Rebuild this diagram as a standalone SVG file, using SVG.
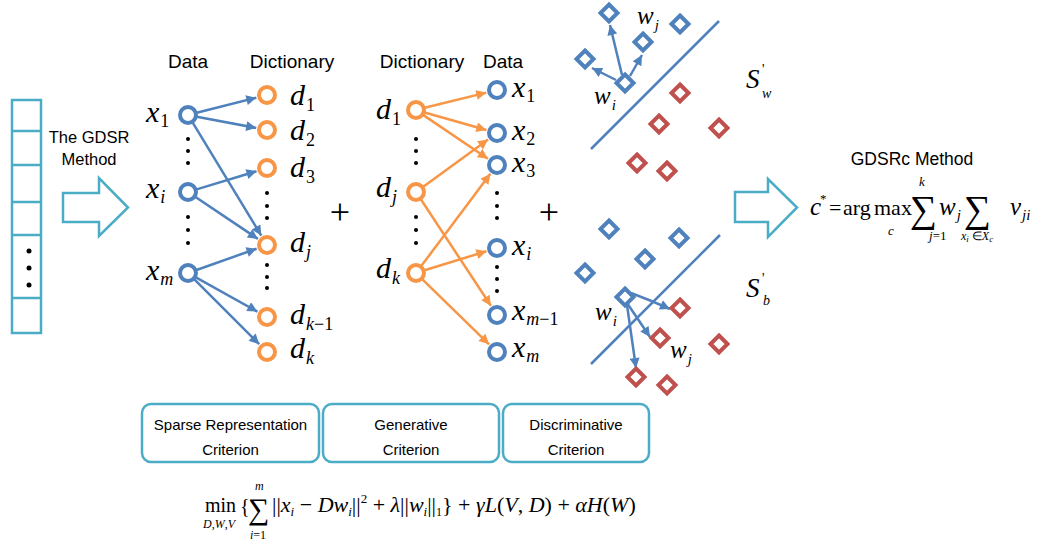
<svg xmlns="http://www.w3.org/2000/svg" width="1052" height="547" viewBox="0 0 1052 547">
<defs>
<marker id="ab" viewBox="0 0 10 10" refX="10" refY="5" markerWidth="12" markerHeight="10" markerUnits="userSpaceOnUse" orient="auto"><path d="M0,0 L10,5 L0,10 z" fill="#4F81BD"/></marker>
<marker id="ao" viewBox="0 0 10 10" refX="10" refY="5" markerWidth="12" markerHeight="10" markerUnits="userSpaceOnUse" orient="auto"><path d="M0,0 L10,5 L0,10 z" fill="#F79646"/></marker>
<style>
.sans{font-family:"Liberation Sans",Arial,sans-serif;fill:#000}
.m{font-family:"Liberation Serif","Times New Roman",serif;font-style:italic;fill:#000}
.r{font-family:"Liberation Serif","Times New Roman",serif;fill:#000}
.n{font-style:normal}
.cb{fill:#fff;stroke:#4F81BD;stroke-width:4}
.co{fill:#fff;stroke:#F79646;stroke-width:4}
.db{fill:#fff;stroke:#4F81BD;stroke-width:4}
.dr{fill:#fff;stroke:#C0504D;stroke-width:4}
.eb{stroke:#4F81BD;stroke-width:2.5;fill:none;marker-end:url(#ab)}
.eo{stroke:#F79646;stroke-width:2.5;fill:none;marker-end:url(#ao)}
.tl{fill:none;stroke:#4BACC6;stroke-width:2.5}
.dot{fill:#000}
</style>
</defs>
<rect width="1052" height="547" fill="#fff"/>

<g id="column">
<rect class="tl" x="12" y="100" width="29" height="233"/>
<path class="tl" d="M12,131H41M12,165H41M12,202H41M12,235H41M12,298H41"/>
<circle class="dot" cx="29" cy="251" r="2.5"/><circle class="dot" cx="29" cy="268" r="2.5"/><circle class="dot" cx="29" cy="285" r="2.5"/>
</g>
<g id="gdsr-label">
<text class="sans" x="89" y="143" font-size="16.5" text-anchor="middle">The GDSR</text>
<text class="sans" x="89" y="165" font-size="16.5" text-anchor="middle">Method</text>
<path class="tl" d="M63,193H99V178L128,207.5L99,236V222H63Z" fill="#fff"/>
</g>

<g id="headers">
<text class="sans" x="188" y="68" font-size="19" text-anchor="middle">Data</text>
<text class="sans" x="292" y="68" font-size="19" text-anchor="middle">Dictionary</text>
<text class="sans" x="422" y="68" font-size="19" text-anchor="middle">Dictionary</text>
<text class="sans" x="503" y="68" font-size="19" text-anchor="middle">Data</text>
</g>

<g id="connectors">
<line class="eb" x1="196.7" y1="112.8" x2="256.3" y2="97.7"/>
<line class="eb" x1="196.8" y1="116.7" x2="256.2" y2="127.9"/>
<line class="eb" x1="192.7" y1="122.7" x2="261.3" y2="235.6"/>
<line class="eb" x1="196.6" y1="189.4" x2="256.5" y2="171.2"/>
<line class="eb" x1="195.5" y1="197" x2="257.9" y2="238.9"/>
<line class="eb" x1="196.5" y1="270" x2="256.6" y2="248.7"/>
<line class="eb" x1="195.9" y1="277.4" x2="257.4" y2="311.6"/>
<line class="eb" x1="194.4" y1="279.4" x2="259.2" y2="344.2"/>

<line class="eo" x1="424.7" y1="107.8" x2="486.3" y2="92.6"/>
<line class="eo" x1="424.7" y1="112.5" x2="486.4" y2="130"/>
<line class="eo" x1="423.4" y1="115.1" x2="487.9" y2="158.8"/>
<line class="eo" x1="423.3" y1="186.7" x2="488.1" y2="139.5"/>
<line class="eo" x1="421" y1="199.5" x2="490.9" y2="305.8"/>
<line class="eo" x1="421.4" y1="265.8" x2="490.4" y2="173.8"/>
<line class="eo" x1="424.6" y1="270.3" x2="486.5" y2="251.2"/>
<line class="eo" x1="422.4" y1="279.3" x2="489.1" y2="344.3"/>

<line class="eb" x1="622" y1="75" x2="610" y2="25"/>
<line class="eb" x1="630" y1="76" x2="642" y2="55"/>
<line class="eb" x1="616" y1="80" x2="592" y2="68"/>
<path class="eb" d="M631,293 Q650,300 670,309"/>
<line class="eb" x1="627" y1="303" x2="650" y2="337"/>
<line class="eb" x1="627" y1="305" x2="636" y2="368"/>
</g>

<g id="sparse-graph">
<circle class="cb" cx="188" cy="115" r="8"/>
<circle class="cb" cx="188" cy="192" r="8"/>
<circle class="cb" cx="188" cy="273" r="8"/>
<g class="dot"><circle cx="188" cy="139" r="2"/><circle cx="188" cy="151" r="2"/><circle cx="188" cy="163" r="2"/><circle cx="188" cy="217" r="2"/><circle cx="188" cy="230" r="2"/><circle cx="188" cy="243" r="2"/></g>
<circle class="co" cx="267" cy="95" r="8"/>
<circle class="co" cx="267" cy="130" r="8"/>
<circle class="co" cx="267" cy="168" r="8"/>
<circle class="co" cx="267" cy="245" r="8"/>
<circle class="co" cx="267" cy="317" r="8"/>
<circle class="co" cx="267" cy="352" r="8"/>
<g class="dot"><circle cx="267" cy="193" r="2"/><circle cx="267" cy="206" r="2"/><circle cx="267" cy="218" r="2"/><circle cx="267" cy="265" r="2"/><circle cx="267" cy="277" r="2"/><circle cx="267" cy="288" r="2"/></g>
<text class="m" x="146" y="122" font-size="30">x<tspan class="n" font-size="18" dx="1" dy="5">1</tspan></text>
<text class="m" x="146" y="198" font-size="30">x<tspan font-size="18" dx="1" dy="5">i</tspan></text>
<text class="m" x="146" y="280" font-size="30">x<tspan font-size="18" dx="1" dy="5">m</tspan></text>
<text class="m" x="290" y="105" font-size="30">d<tspan class="n" font-size="18" dx="1" dy="6">1</tspan></text>
<text class="m" x="290" y="140" font-size="30">d<tspan class="n" font-size="18" dx="1" dy="6">2</tspan></text>
<text class="m" x="290" y="177" font-size="30">d<tspan class="n" font-size="18" dx="1" dy="6">3</tspan></text>
<text class="m" x="290" y="252" font-size="30">d<tspan font-size="18" dx="1" dy="6">j</tspan></text>
<text class="m" x="290" y="324" font-size="30">d<tspan font-size="18" dx="1" dy="6">k</tspan><tspan class="n" font-size="18">−1</tspan></text>
<text class="m" x="290" y="358" font-size="30">d<tspan font-size="18" dx="1" dy="6">k</tspan></text>
</g>

<g id="plus1"><text class="r" x="340" y="224" font-size="36" text-anchor="middle">+</text></g>

<g id="generative-graph">
<circle class="co" cx="416" cy="110" r="8"/>
<circle class="co" cx="416" cy="192" r="8"/>
<circle class="co" cx="416" cy="273" r="8"/>
<g class="dot"><circle cx="416" cy="139" r="2"/><circle cx="416" cy="151" r="2"/><circle cx="416" cy="163" r="2"/><circle cx="416" cy="217" r="2"/><circle cx="416" cy="230" r="2"/><circle cx="416" cy="243" r="2"/></g>
<circle class="cb" cx="497" cy="90" r="8"/>
<circle class="cb" cx="497" cy="133" r="8"/>
<circle class="cb" cx="497" cy="165" r="8"/>
<circle class="cb" cx="497" cy="248" r="8"/>
<circle class="cb" cx="497" cy="315" r="8"/>
<circle class="cb" cx="497" cy="352" r="8"/>
<g class="dot"><circle cx="497" cy="193" r="2"/><circle cx="497" cy="206" r="2"/><circle cx="497" cy="218" r="2"/><circle cx="497" cy="267" r="2"/><circle cx="497" cy="279" r="2"/><circle cx="497" cy="291" r="2"/></g>
<text class="m" x="376" y="119" font-size="30">d<tspan class="n" font-size="18" dx="1" dy="6">1</tspan></text>
<text class="m" x="376" y="197" font-size="30">d<tspan font-size="18" dx="1" dy="6">j</tspan></text>
<text class="m" x="376" y="278" font-size="30">d<tspan font-size="18" dx="1" dy="6">k</tspan></text>
<text class="m" x="512" y="97" font-size="30">x<tspan class="n" font-size="18" dx="1" dy="5">1</tspan></text>
<text class="m" x="512" y="140" font-size="30">x<tspan class="n" font-size="18" dx="1" dy="5">2</tspan></text>
<text class="m" x="512" y="172" font-size="30">x<tspan class="n" font-size="18" dx="1" dy="5">3</tspan></text>
<text class="m" x="512" y="255" font-size="30">x<tspan font-size="18" dx="1" dy="5">i</tspan></text>
<text class="m" x="512" y="320" font-size="30">x<tspan font-size="18" dx="1" dy="5">m</tspan><tspan class="n" font-size="18">−1</tspan></text>
<text class="m" x="512" y="357" font-size="30">x<tspan font-size="18" dx="1" dy="5">m</tspan></text>
</g>

<g id="plus2"><text class="r" x="549" y="224" font-size="36" text-anchor="middle">+</text></g>

<g id="discriminative-top">
<line x1="591" y1="149" x2="719" y2="21" stroke="#4F81BD" stroke-width="2.5"/>
<path class="db" d="M609,4.5l8.5,8.5l-8.5,8.5l-8.5,-8.5z"/>
<path class="db" d="M680,15.5l8.5,8.5l-8.5,8.5l-8.5,-8.5z"/>
<path class="db" d="M643,33.5l8.5,8.5l-8.5,8.5l-8.5,-8.5z"/>
<path class="db" d="M585,50.5l8.5,8.5l-8.5,8.5l-8.5,-8.5z"/>
<path class="db" d="M625,74.5l8.5,8.5l-8.5,8.5l-8.5,-8.5z"/>
<path class="dr" d="M680,84.5l8.5,8.5l-8.5,8.5l-8.5,-8.5z"/>
<path class="dr" d="M659,115.5l8.5,8.5l-8.5,8.5l-8.5,-8.5z"/>
<path class="dr" d="M719,119.5l8.5,8.5l-8.5,8.5l-8.5,-8.5z"/>
<path class="dr" d="M637,154.5l8.5,8.5l-8.5,8.5l-8.5,-8.5z"/>
<path class="dr" d="M667,162.5l8.5,8.5l-8.5,8.5l-8.5,-8.5z"/>
<text class="m" x="637" y="24" font-size="25">w<tspan font-size="15" dx="1" dy="6">j</tspan></text>
<text class="m" x="594" y="104" font-size="25">w<tspan font-size="15" dx="1" dy="6">i</tspan></text>
<text class="m" x="746" y="88" font-size="27">S</text>
<text class="r" x="762" y="74" font-size="14">'</text>
<text class="m" x="762" y="98" font-size="14">w</text>
</g>

<g id="discriminative-bottom">
<line x1="591" y1="364" x2="720" y2="235" stroke="#4F81BD" stroke-width="2.5"/>
<path class="db" d="M609,220.5l8.5,8.5l-8.5,8.5l-8.5,-8.5z"/>
<path class="db" d="M679,229.5l8.5,8.5l-8.5,8.5l-8.5,-8.5z"/>
<path class="db" d="M645,250.5l8.5,8.5l-8.5,8.5l-8.5,-8.5z"/>
<path class="db" d="M585,264.5l8.5,8.5l-8.5,8.5l-8.5,-8.5z"/>
<path class="db" d="M625,288.5l8.5,8.5l-8.5,8.5l-8.5,-8.5z"/>
<path class="dr" d="M680,299.5l8.5,8.5l-8.5,8.5l-8.5,-8.5z"/>
<path class="dr" d="M660,329.5l8.5,8.5l-8.5,8.5l-8.5,-8.5z"/>
<path class="dr" d="M719,335.5l8.5,8.5l-8.5,8.5l-8.5,-8.5z"/>
<path class="dr" d="M636,368.5l8.5,8.5l-8.5,8.5l-8.5,-8.5z"/>
<path class="dr" d="M667,376.5l8.5,8.5l-8.5,8.5l-8.5,-8.5z"/>
<text class="m" x="595" y="320" font-size="25">w<tspan font-size="15" dx="1" dy="6">i</tspan></text>
<text class="m" x="670" y="358" font-size="25">w<tspan font-size="15" dx="1" dy="6">j</tspan></text>
<text class="m" x="746" y="297" font-size="27">S</text>
<text class="r" x="762" y="283" font-size="14">'</text>
<text class="m" x="763" y="305" font-size="14">b</text>
</g>

<g id="gdsrc">
<text class="sans" x="912" y="165" font-size="17.5" text-anchor="middle">GDSRc Method</text>
<path class="tl" d="M735,192H768V179L797,207.5L768,237V222H735Z" fill="#fff"/>
<text class="m" x="810" y="215" font-size="25">c</text>
<text class="r" x="820" y="203" font-size="13">*</text>
<text class="r" x="829" y="215" font-size="22">=</text>
<text class="r" x="843" y="215" font-size="22">arg</text>
<text class="r" x="874" y="215" font-size="22">max</text>
<text class="m" x="888" y="235" font-size="13">c</text>
<text class="r" x="910" y="222" font-size="38">∑</text>
<text class="m" x="919" y="186" font-size="13">k</text>
<text class="m" x="929" y="240" font-size="13">j<tspan class="n">=1</tspan></text>
<text class="m" x="939" y="215" font-size="25">w<tspan font-size="15" dx="1" dy="5">j</tspan></text>
<text class="r" x="964" y="222" font-size="38">∑</text>
<text class="m" x="961" y="240" font-size="12">x<tspan font-size="9" dy="2">i</tspan><tspan class="n" font-size="12" dy="-2"> ∈</tspan><tspan>X</tspan><tspan font-size="9" dy="2">c</tspan></text>
<text class="m" x="1010" y="215" font-size="25">v<tspan font-size="15" dx="1" dy="5">ji</tspan></text>
</g>

<g id="criteria">
<g id="box-sparse">
<rect class="tl" x="142" y="404" width="177" height="58" rx="9"/>
<text class="sans" x="230.5" y="430" font-size="15" text-anchor="middle">Sparse Representation</text>
<text class="sans" x="230.5" y="455" font-size="15" text-anchor="middle">Criterion</text>
</g>
<g id="box-generative">
<rect class="tl" x="323" y="404" width="176" height="58" rx="9"/>
<text class="sans" x="411" y="430" font-size="15" text-anchor="middle">Generative</text>
<text class="sans" x="411" y="455" font-size="15" text-anchor="middle">Criterion</text>
</g>
<g id="box-discriminative">
<rect class="tl" x="503" y="404" width="146" height="58" rx="9"/>
<text class="sans" x="576" y="430" font-size="15" text-anchor="middle">Discriminative</text>
<text class="sans" x="576" y="455" font-size="15" text-anchor="middle">Criterion</text>
</g>
</g>

<g id="objective">
<text class="r" x="205" y="512" font-size="20">min</text>
<text class="m" x="203" y="528" font-size="12">D<tspan class="n">,</tspan>W<tspan class="n">,</tspan>V</text>
<text class="r" x="240" y="513" font-size="20">{</text>
<text class="r" x="248" y="519" font-size="30">∑</text>
<text class="m" x="255" y="490" font-size="12">m</text>
<text class="m" x="250" y="539" font-size="12">i<tspan class="n">=1</tspan></text>
<text class="r" x="272" y="512" font-size="22">||<tspan class="m">x</tspan><tspan class="m" font-size="13" dy="4">i</tspan><tspan dy="-4"> − </tspan><tspan class="m">Dw</tspan><tspan class="m" font-size="13" dy="4">i</tspan><tspan dy="-4">||</tspan><tspan font-size="13" dy="-9">2</tspan><tspan dy="9"> + </tspan><tspan class="m">λ</tspan>||<tspan class="m">w</tspan><tspan class="m" font-size="13" dy="4">i</tspan><tspan dy="-4">||</tspan><tspan font-size="12" dy="4">1</tspan><tspan dy="-4">} + </tspan><tspan class="m">γL</tspan>(<tspan class="m">V</tspan>, <tspan class="m">D</tspan>) + <tspan class="m">αH</tspan>(<tspan class="m">W</tspan>)</text>
</g>
</svg>
